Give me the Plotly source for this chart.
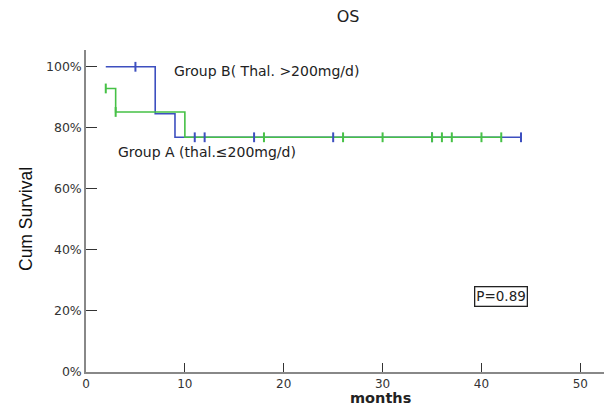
import plotly.graph_objects as go

# Step curves (time in months, cumulative survival %)
groupB_time = [2, 7, 9, 44]
groupB_surv = [100, 84.6, 76.9, 76.9]
groupB_cens_time = [5, 11, 12, 17, 25, 35, 44]
groupB_cens_surv = [100, 76.9, 76.9, 76.9, 76.9, 76.9, 76.9]

groupA_time = [2, 3, 10, 42]
groupA_surv = [92.9, 85.2, 76.9, 76.9]
groupA_cens_time = [2, 3, 18, 26, 30, 35, 36, 37, 40, 42]
groupA_cens_surv = [92.9, 85.2, 76.9, 76.9, 76.9, 76.9, 76.9, 76.9, 76.9, 76.9]

x_ticks = [0, 10, 20, 30, 40, 50]
y_ticks = [0, 20, 40, 60, 80, 100]
y_tick_labels = ["0%", "20%", "40%", "60%", "80%", "100%"]

BLUE = "#3d4fbf"
GREEN = "#46c146"
WIDE = "DejaVu Sans, Verdana, sans-serif"

# page has an 8px body margin, so the figure is drawn at (8, 8)
W, H = 604, 400
L, T, R, B = 78, 42, 2, 36

fig = go.Figure()
fig.add_trace(go.Scatter(x=groupB_time, y=groupB_surv, mode="lines",
                         line=dict(color=BLUE, width=1.6, shape="hv"), showlegend=False))
fig.add_trace(go.Scatter(x=groupA_time, y=groupA_surv, mode="lines",
                         line=dict(color=GREEN, width=1.6, shape="hv"), showlegend=False))
fig.add_trace(go.Scatter(x=groupB_cens_time, y=groupB_cens_surv, mode="markers",
                         marker=dict(symbol="line-ns-open", size=7, color=BLUE,
                                     line=dict(color=BLUE, width=2)),
                         showlegend=False))
fig.add_trace(go.Scatter(x=groupA_cens_time, y=groupA_cens_surv, mode="markers",
                         marker=dict(symbol="line-ns-open", size=7, color=GREEN,
                                     line=dict(color=GREEN, width=2)),
                         showlegend=False))

plot_cx = (L + (W - R)) / 2 / W

fig.update_layout(
    width=W, height=H,
    margin=dict(l=L, r=R, t=T, b=B),
    paper_bgcolor="white", plot_bgcolor="white",
    font=dict(family=WIDE, color="#222", size=13),
    title=dict(text="OS", x=plot_cx, xanchor="center", y=1 - 8 / H, yanchor="middle",
               font=dict(size=16, color="#222", family=WIDE)),
    xaxis=dict(range=[0, 53], tickvals=x_ticks, ticks="inside", ticklen=9, tickcolor="#333",
               showgrid=False, zeroline=False, showline=True, linecolor="#888", linewidth=1.5,
               tickfont=dict(size=12, color="#333", family=WIDE), automargin=False),
    yaxis=dict(range=[0, 105.5], tickvals=y_ticks, ticktext=y_tick_labels, ticks="inside",
               ticklen=11, tickcolor="#333", showgrid=False, zeroline=False, showline=True,
               linecolor="#888", linewidth=1.5, tickfont=dict(size=12.5, color="#333", family=WIDE),
               automargin=False),
    annotations=[
        dict(x=8.7, y=98.6, xref="x", yref="y", text="Group B( Thal. >200mg/d)", showarrow=False,
             xanchor="left", yanchor="middle", font=dict(size=14, color="#222", family=WIDE)),
        dict(x=3.0, y=72.1, xref="x", yref="y", text="Group A (thal.≤200mg/d)", showarrow=False,
             xanchor="left", yanchor="middle", font=dict(size=14, color="#222", family=WIDE)),
        dict(x=42, y=24.9, xref="x", yref="y", text="P=0.89", showarrow=False,
             xanchor="center", yanchor="middle", font=dict(size=13.5, color="#222", family=WIDE),
             bordercolor="#222", borderwidth=1.3, borderpad=1, bgcolor="white"),
        dict(x=plot_cx, y=0, xref="paper", yref="paper", yanchor="middle",
             yshift=-(398 - 372), borderpad=0, text="<b>months</b>", showarrow=False,
             font=dict(size=14.5, color="#222", family=WIDE)),
        dict(x=0, y=0.5, xref="paper", yref="paper", xanchor="center", xshift=-(86 - 26),
             yshift=-8, text="Cum Survival", textangle=-90, showarrow=False,
             font=dict(size=17.5, family="Liberation Sans, Arial, sans-serif", color="#111")),
    ],
)

fig.write_html("out.html")
